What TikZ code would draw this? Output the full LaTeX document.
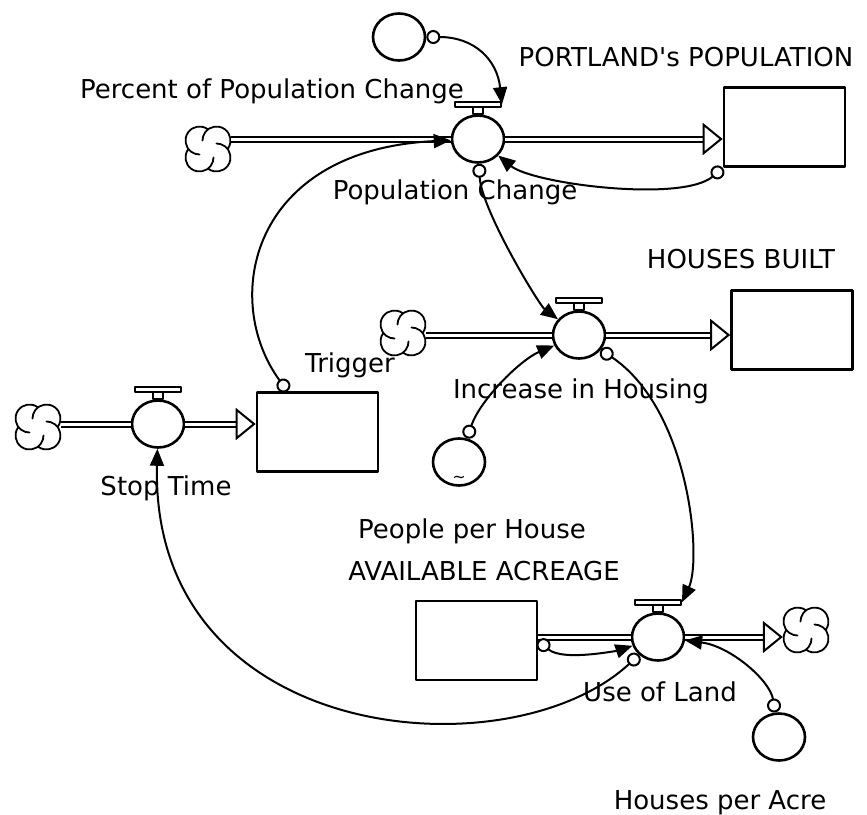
\documentclass[tikz,border=0pt]{standalone}
\usepackage{fontspec}
\setmainfont{DejaVu Sans}[Ligatures=TeXOff]
\usetikzlibrary{arrows.meta,shapes.geometric}
%%Mây: bốn cánh xoắn quanh một nút
\newcommand\puffs[1]{%
	\foreach \a in {45,135,225,315}
	\draw[line width=1.8pt] ([shift={(\a:12pt)}]#1.center) ++(\a-81:14pt) arc[start angle=\a-81,end angle=\a+135,radius=14pt];
}
\begin{document}
\begin{tikzpicture}[x=1pt,y=-1pt,font=\fontsize{26}{30}\selectfont, line join=round, line cap=round,
	stock/.style={draw,line width=2.6pt,minimum width=121pt,minimum height=79pt,inner sep=0pt},
	conv/.style={draw,ellipse,line width=2.6pt,minimum width=52pt,minimum height=47pt,inner sep=0pt,fill=white},
	bar/.style={draw,line width=2pt,minimum width=46pt,minimum height=5pt,inner sep=0pt,fill=white},
	cloudy/.style={circle,minimum size=46pt,inner sep=0pt},
	pipe/.style={double,line width=2pt,double distance=3pt,line cap=butt},
	into/.style={-{Triangle[open,length=20pt,width=32pt,line width=2pt]}},
	link/.style={line width=2pt,arrows={Circle[fill=white,length=14pt,width=14pt,line width=2pt]-Triangle[length=17pt,width=14pt]}},
	lb/.style={anchor=base}]
	\useasboundingbox (0,0) rectangle (867,814);
	%%Kho
	\node[stock] (sPop) at (784.5,127) {};
	\node[stock] (sHouse) at (792,330) {};
	\node[stock] (sTrig) at (317.5,432) {};
	\node[stock] (sAcre) at (476.5,640.5) {};
	%%Van
	\node[conv] (vPop) at (478,139) {};
	\node[conv] (vHouse) at (579,335) {};
	\node[conv] (vStop) at (158,424) {};
	\node[conv] (vLand) at (658,637) {};
	\foreach \v in {vPop,vHouse,vStop,vLand}{
		\draw[line width=2pt,fill=white] ([xshift=-5pt]\v.north) rectangle ([xshift=5pt,yshift=8pt]\v.north);
		\node[bar] (h\v) at ([yshift=10pt]\v.north) {};
	}
	%%Biến
	\node[conv] (pcc) at (399,37) {};
	\node[conv] (pph) at (459,462) {};
	\node[conv] (hpa) at (779,737) {};
	\node[font=\fontsize{16}{16}\selectfont,inner sep=0pt] (tilde) at ([yshift=7pt]pph.south) {\textasciitilde};
	%%Mây
	\node[cloudy] (cA) at (208,149) {};
	\node[cloudy] (cB) at (403,333) {};
	\node[cloudy] (cC) at (38,427) {};
	\node[cloudy] (cD) at (806,630) {};
	\foreach \c in {cA,cB,cC,cD} \puffs{\c};
	%%Dòng chảy
	\draw[pipe] (cA.east |- vPop) -- (vPop);
	\draw[pipe,into] (vPop) -- (vPop -| sPop.west);
	\draw[pipe] (cB.east |- vHouse) -- (vHouse);
	\draw[pipe,into] (vHouse) -- (vHouse -| sHouse.west);
	\draw[pipe] (cC.east |- vStop) -- (vStop);
	\draw[pipe,into] (vStop) -- (vStop -| sTrig.west);
	\draw[pipe] (sAcre.east |- vLand) -- (vLand);
	\draw[pipe,into] (vLand) -- (vLand -| cD.west);
	%%Liên kết
	\draw[link] (pcc) .. controls +(75,0) and +(-5,-45) .. (hvPop.east);
	\draw[link] (sPop.south west) .. controls +(-40,35) and +(55,45) .. (vPop);
	\draw[link] (vPop) .. controls +(3,70) and +(-40,-30) .. (vHouse);
	\draw[link] (sTrig) .. controls +(-97,-132) and +(-228,11) .. (vPop);
	\draw[link] (pph) .. controls +(21,-62) and +(-59,25) .. (vHouse);
	\draw[link] (vHouse) .. controls +(111,75) and +(20,-43) .. (hvLand.east);
	\draw[link] (sAcre.east) .. controls +(25,22) and +(-35,12) .. (vLand);
	\draw[link] (vLand) .. controls +(-148,138) and +(-8,321) .. (vStop);
	\draw[link] (hpa) .. controls +(-9,-57) and +(72,9) .. (vLand);
	%%Nhãn
	\node[lb] (tPcc) at (272,98) {Percent of Population Change};
	\node[lb] (tPop) at (686,66) {PORTLAND's POPULATION};
	\node[lb] (tvPop) at (455,199) {Population Change};
	\node[lb] (tHouse) at (741,268) {HOUSES BUILT};
	\node[lb] (tTrig) at (350,372) {Trigger};
	\node[lb] (tvHouse) at (581,398) {Increase in Housing};
	\node[lb] (tvStop) at (166,495) {Stop Time};
	\node[lb] (tPph) at (472,538) {People per House};
	\node[lb] (tAcre) at (484,580) {AVAILABLE ACREAGE};
	\node[lb] (tvLand) at (660,701) {Use of Land};
	\node[lb] (tHpa) at (720,809) {Houses per Acre};
\end{tikzpicture}
\end{document}
